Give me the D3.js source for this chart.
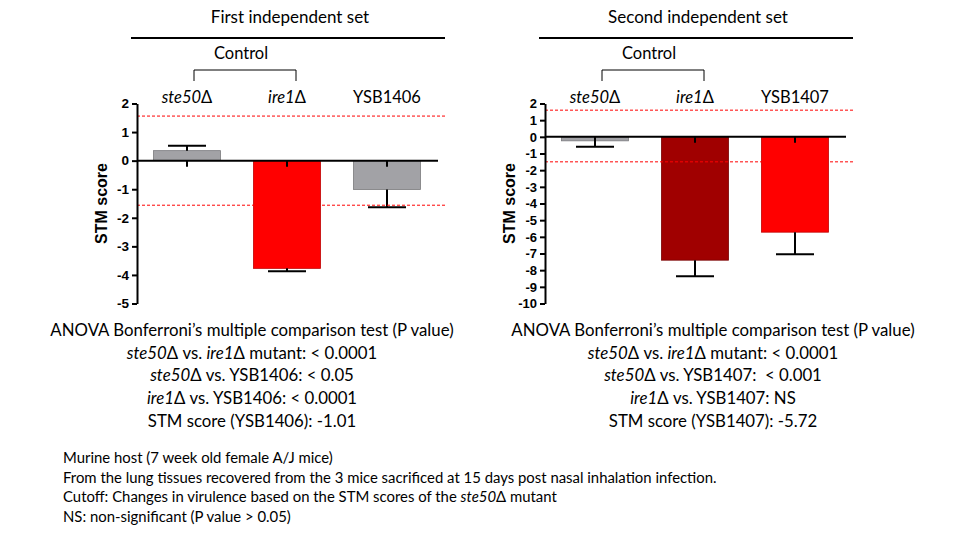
<!DOCTYPE html>
<html>
<head>
<meta charset="utf-8">
<script src="https://cdn.jsdelivr.net/npm/d3@7"></script>
<style>
  body { margin: 0; background: #fff; }
  svg { display: block; }
  .txt { font-family: Lato, "Open Sans", sans-serif; fill: #000; }
  .bold { font-family: "Liberation Sans", Arial, sans-serif; font-weight: bold; fill: #000; }
</style>
</head>
<body>
<svg id="chart"></svg>
<script>
// ---- data ----
// *...* marks italic text
const strains1 = ['*ste50*Δ', '*ire1*Δ', 'YSB1406'];
const means1 = [0.35, -3.77, -1.01];
const errs1 = [0.17, 0.10, 0.62];
const cutoffs1 = [1.56, -1.56];
const ticks1 = [2, 1, 0, -1, -2, -3, -4, -5];

const strains2 = ['*ste50*Δ', '*ire1*Δ', 'YSB1407'];
const means2 = [-0.24, -7.40, -5.72];
const errs2 = [0.36, 0.96, 1.32];
const cutoffs2 = [1.6, -1.5];
const ticks2 = [2, 1, 0, -1, -2, -3, -4, -5, -6, -7, -8, -9, -10];

const titles = ['First independent set', 'Second independent set'];

const stats1 = [
  'ANOVA Bonferroni’s multiple comparison test (P value)',
  '*ste50*Δ vs. *ire1*Δ mutant: < 0.0001',
  '*ste50*Δ vs. YSB1406: < 0.05',
  '*ire1*Δ vs. YSB1406: < 0.0001',
  'STM score (YSB1406): -1.01'
];
const stats2 = [
  'ANOVA Bonferroni’s multiple comparison test (P value)',
  '*ste50*Δ vs. *ire1*Δ mutant: < 0.0001',
  '*ste50*Δ vs. YSB1407:  < 0.001',
  '*ire1*Δ vs. YSB1407: NS',
  'STM score (YSB1407): -5.72'
];
const notes = [
  'Murine host (7 week old female A/J mice)',
  'From the lung tissues recovered from the 3 mice sacrificed at 15 days post nasal inhalation infection.',
  'Cutoff: Changes in virulence based on the STM scores of the *ste50*Δ mutant',
  'NS: non-significant (P value > 0.05)'
];

const width = 960;
const height = 535;

const svg = d3.select('#chart')
  .attr('width', width)
  .attr('height', height);

// writes a string with *italic* parts as tspans
function richText(sel, str) {
  str.split('*').forEach((part, i) => {
    if (!part) return;
    sel.append('tspan')
      .attr('font-style', i % 2 ? 'italic' : 'normal')
      .style('white-space', 'pre')
      .text(part);
  });
  return sel;
}

function drawPanel(opts) {
  const { left, title, strains, means, errs, cutoffs, ticks, colors, tickFont } = opts;
  const top = 103.5, bottom = 303.5;
  const g = svg.append('g');

  const x = d3.scaleBand()
    .domain(strains)
    .range([left, left + 300])
    .paddingInner(0.33)
    .paddingOuter(0.165);

  const y = d3.scaleLinear()
    .domain([d3.min(ticks), d3.max(ticks)])
    .range([bottom, top]);

  // title + rule
  g.append('text').attr('class', 'txt')
    .attr('x', left + 153).attr('y', 23)
    .attr('text-anchor', 'middle')
    .style('font-size', '17px')
    .text(title);
  g.append('line')
    .attr('x1', left - 6).attr('x2', left + 308)
    .attr('y1', 38).attr('y2', 38)
    .attr('stroke', '#000').attr('stroke-width', 2);

  // control bracket over the first two strains
  const bx1 = x(strains[0]) + x.bandwidth() / 2 + 7;
  const bx2 = x(strains[1]) + x.bandwidth() / 2 + 9;
  g.append('path')
    .attr('d', `M${bx1},81V70H${bx2}V81`)
    .attr('fill', 'none').attr('stroke', '#000').attr('stroke-width', 1);
  g.append('text').attr('class', 'txt')
    .attr('x', (bx1 + bx2) / 2 - 4).attr('y', 59)
    .attr('text-anchor', 'middle')
    .style('font-size', '16.5px')
    .text('Control');

  // strain labels
  strains.forEach(s => {
    richText(g.append('text').attr('class', 'txt')
      .attr('x', x(s) + x.bandwidth() / 2)
      .attr('y', 103)
      .attr('text-anchor', 'middle')
      .style('font-size', '16.5px'), s);
  });

  // bars
  g.selectAll('rect.bar')
    .data(strains)
    .join('rect')
    .attr('class', 'bar')
    .attr('x', d => x(d))
    .attr('width', x.bandwidth())
    .attr('y', (d, i) => y(Math.max(0, means[i])))
    .attr('height', (d, i) => Math.abs(y(means[i]) - y(0)))
    .attr('fill', (d, i) => colors[i])
    .attr('stroke', (d, i) => d3.color(colors[i]).darker(0.8))
    .attr('stroke-width', 0.8);

  // error bars (one-sided, away from zero)
  strains.forEach((s, i) => {
    const cx = x(s) + x.bandwidth() / 2;
    const sign = means[i] >= 0 ? 1 : -1;
    const yEnd = y(means[i] + sign * errs[i]);
    g.append('line')
      .attr('x1', cx).attr('x2', cx)
      .attr('y1', y(means[i])).attr('y2', yEnd)
      .attr('stroke', '#000').attr('stroke-width', 2);
    g.append('line')
      .attr('x1', cx - 19).attr('x2', cx + 19)
      .attr('y1', yEnd).attr('y2', yEnd)
      .attr('stroke', '#000').attr('stroke-width', 2);
    // small stub below the baseline
    g.append('line')
      .attr('x1', cx).attr('x2', cx)
      .attr('y1', y(0)).attr('y2', y(0) + 6)
      .attr('stroke', '#000').attr('stroke-width', 2);
  });

  // cutoff lines
  g.selectAll('line.cut')
    .data(cutoffs)
    .join('line')
    .attr('class', 'cut')
    .attr('x1', left).attr('x2', left + 309)
    .attr('y1', d => y(d)).attr('y2', d => y(d))
    .attr('stroke', '#ff0000')
    .attr('stroke-width', 1)
    .attr('stroke-dasharray', '3,2');

  // zero line
  g.append('line')
    .attr('x1', left).attr('x2', left + 301)
    .attr('y1', y(0)).attr('y2', y(0))
    .attr('stroke', '#000').attr('stroke-width', 2);

  // y axis
  const ax = g.append('g')
    .attr('transform', `translate(${left},0)`)
    .attr('font-family', '"Liberation Sans", Arial, sans-serif')
    .attr('font-weight', 'bold')
    .call(d3.axisLeft(y).tickValues(ticks).tickSize(5).tickSizeOuter(0).tickPadding(3).tickFormat(d3.format('d')));
  ax.attr('font-size', tickFont).attr('font-family', '"Liberation Sans", Arial, sans-serif');
  ax.select('.domain').attr('stroke', '#000').attr('stroke-width', 2);
  ax.selectAll('.tick line').attr('stroke', '#000').attr('stroke-width', 2);
  ax.selectAll('.tick text')
    .attr('class', 'bold')
    .attr('fill', '#000')
    .style('font-size', tickFont + 'px')
    .style('font-weight', 'bold')
    .text(d => String(d).replace('\u2212', '-'));

  g.append('text')
    .attr('class', 'bold')
    .attr('transform', `translate(${left - 30},${(top + bottom) / 2}) rotate(-90)`)
    .attr('text-anchor', 'middle')
    .style('font-size', '16px')
    .text('STM score');
}

drawPanel({
  left: 137, title: titles[0], strains: strains1, means: means1, errs: errs1,
  cutoffs: cutoffs1, ticks: ticks1, colors: ['#a2a2a6', '#ff0000', '#a2a2a6'], tickFont: 13.5
});
drawPanel({
  left: 545, title: titles[1], strains: strains2, means: means2, errs: errs2,
  cutoffs: cutoffs2, ticks: ticks2, colors: ['#a2a2a6', '#a00000', '#ff0000'], tickFont: 13
});

// statistics blocks
[[stats1, 252], [stats2, 713]].forEach(([lines, cx]) => {
  lines.forEach((l, i) => {
    richText(svg.append('text').attr('class', 'txt')
      .attr('x', cx)
      .attr('y', 336 + i * 22.7)
      .attr('text-anchor', 'middle')
      .style('font-size', '16.8px'), l);
  });
});

// footnotes
notes.forEach((n, i) => {
  richText(svg.append('text').attr('class', 'txt')
    .attr('x', 63)
    .attr('y', 463 + i * 19.7)
    .style('font-size', '14.9px'), n);
});
</script>
</body>
</html>
